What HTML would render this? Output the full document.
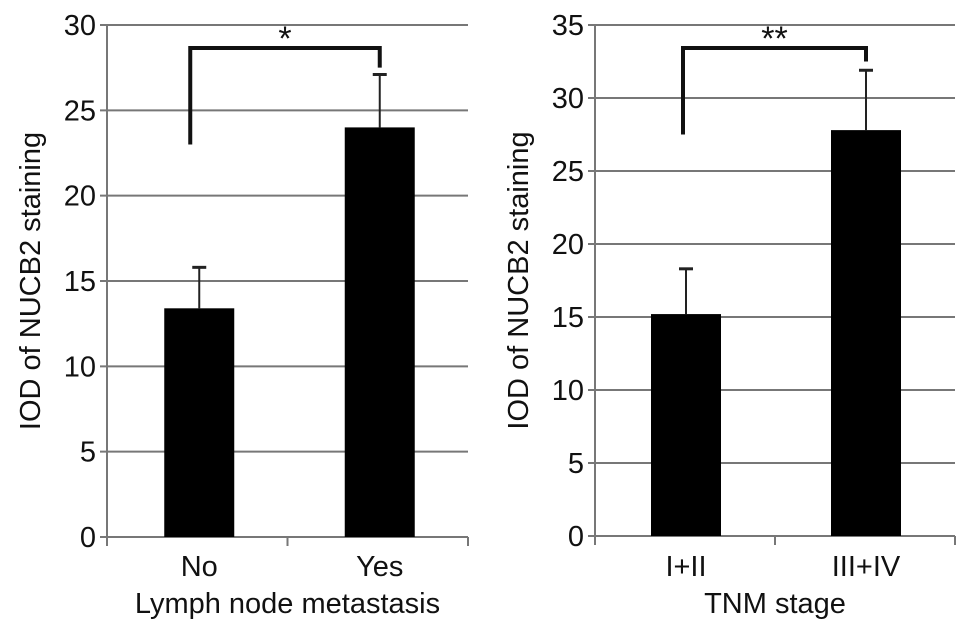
<!DOCTYPE html>
<html><head><meta charset="utf-8"><style>
body{margin:0;background:#fff}
svg{display:block;font-family:"Liberation Sans",Arial,sans-serif}
</style></head><body>
<svg id="c" width="969" height="629" viewBox="0 0 969 629"></svg>
<script>
const leftCategories=["No","Yes"];
const leftValues=[13.4,24.0];
const leftErrors=[2.4,3.1];
const leftTicks=[0,5,10,15,20,25,30];
const rightCategories=["I+II","III+IV"];
const rightValues=[15.2,27.8];
const rightErrors=[3.1,4.1];
const rightTicks=[0,5,10,15,20,25,30,35];
const NS="http://www.w3.org/2000/svg";
const svg=document.getElementById('c');
function mk(t,a,p){const e=document.createElementNS(NS,t);for(const k in a)e.setAttribute(k,a[k]);(p||svg).appendChild(e);return e;}
function panel(o){
  const g=mk('g',{});
  
  
  const max=o.ticks[o.ticks.length-1];
  const y=v=>o.y0-(v/max)*(o.y0-o.yTop);
  const band=(o.x1-o.x0)/o.cats.length;
  const xc=i=>o.x0+band*(i+0.5)+o.shift;
  o.ticks.forEach(t=>{
    const ln=mk('line',{x1:o.x0-7,x2:o.x1,y1:y(t),y2:y(t),stroke:'#777','stroke-width':2},g);
    
    
    const tx=mk('text',{x:o.x0-11,y:y(t)+10,'text-anchor':'end','font-size':29,fill:'#111'},g);
    tx.textContent=t;
    
    
  });
  const ax=mk('line',{x1:o.x0,x2:o.x0,y1:o.yTop,y2:o.y0+8,stroke:'#777','stroke-width':2},g);
  
  
  for(let i=0;i<=o.cats.length;i++){
    const tk=mk('line',{x1:o.x0+band*i,x2:o.x0+band*i,y1:o.y0,y2:o.y0+9,stroke:'#777','stroke-width':2},g);
    
    
  }
  o.cats.forEach((c,i)=>{
    const bw=70, cx=xc(i);
    const et=mk('line',{x1:cx,x2:cx,y1:y(o.vals[i]),y2:y(o.vals[i]+o.errs[i]),stroke:'#222','stroke-width':2},g);
    
    
    const cap=mk('line',{x1:cx-7,x2:cx+7,y1:y(o.vals[i]+o.errs[i]),y2:y(o.vals[i]+o.errs[i]),stroke:'#222','stroke-width':3},g);
    
    
    const r=mk('rect',{x:cx-bw/2,y:y(o.vals[i]),width:bw,height:o.y0-y(o.vals[i]),fill:'#000'},g);
    
    
    const t=mk('text',{x:cx,y:576,'text-anchor':'middle','font-size':29,fill:'#111'},g);
    t.textContent=c;
    
    
  });
  const bx0=xc(0)-o.bOff, bx1=xc(1)+o.bOff2;
  const br=mk('path',{d:`M${bx0},${y(o.leg0)} V48 H${bx1} V${y(o.leg1)}`,fill:'none',stroke:'#111','stroke-width':4},g);
  
  
  const st=mk('text',{x:(bx0+bx1)/2,y:50,'text-anchor':'middle','font-size':34,fill:'#111'},g);
  st.textContent=o.star;
  
  
  const xt=mk('text',{x:(o.x0+o.x1)/2,y:613,'text-anchor':'middle','font-size':29,fill:'#111'},g);
  xt.textContent=o.xtitle;
  
  
  const yt=mk('text',{x:0,y:0,'text-anchor':'middle','font-size':29,fill:'#111',transform:`translate(${o.ytx},${(o.yTop+o.y0)/2}) rotate(-90)`},g);
  yt.textContent='IOD of NUCB2 staining';
  
  
}
panel({name:'lymph-node-chart',cats:leftCategories,vals:leftValues,errs:leftErrors,ticks:leftTicks,x0:107,x1:468,y0:537,yTop:25,ytx:40,xtitle:'Lymph node metastasis',star:'*',leg0:23,leg1:27.5,bOff:9,bOff2:0,shift:2});
panel({name:'tnm-stage-chart',cats:rightCategories,vals:rightValues,errs:rightErrors,ticks:rightTicks,x0:595,x1:955,y0:536,yTop:25,ytx:528,xtitle:'TNM stage',star:'**',leg0:27.5,leg1:32.5,bOff:3,bOff2:0,shift:1});
</script>
</body></html>
